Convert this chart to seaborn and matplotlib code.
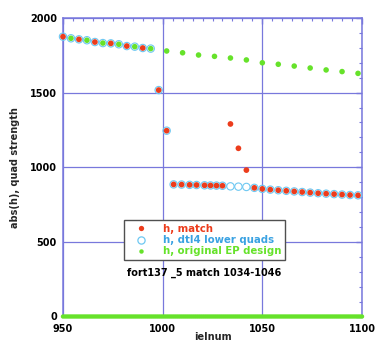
import matplotlib
matplotlib.use('Agg')
import matplotlib.pyplot as plt
import seaborn as sns
from matplotlib.ticker import MultipleLocator
from matplotlib.lines import Line2D

# ---- data ----
red_x = [950, 958, 966, 974, 982, 990, 998, 1002,
         1005.5, 1009.5, 1013.5, 1017, 1021, 1024, 1027, 1030,
         1034, 1038, 1042,
         1046, 1050, 1054, 1058, 1062, 1066, 1070, 1074, 1078, 1082, 1086, 1090, 1094, 1098]
red_y = [1875, 1857, 1839, 1830, 1812, 1799, 1517, 1245,
         885, 884, 882, 881, 879, 878, 877, 876,
         1290, 1127, 981,
         862, 855, 850, 846, 842, 838, 834, 830, 826, 823, 820, 817, 814, 812]

cyan_x = [950, 954, 958, 962, 966, 970, 974, 978, 982, 986, 990, 994, 998, 1002,
          1005.5, 1009.5, 1013.5, 1017, 1021, 1024, 1027, 1030,
          1034, 1038, 1042,
          1046, 1050, 1054, 1058, 1062, 1066, 1070, 1074, 1078, 1082, 1086, 1090, 1094, 1098]
cyan_y = [1875, 1864, 1857, 1851, 1839, 1832, 1830, 1824, 1812, 1808, 1799, 1795, 1517, 1245,
          885, 884, 882, 881, 879, 878, 877, 876,
          872, 870, 868,
          862, 855, 850, 846, 842, 838, 834, 830, 826, 823, 820, 817, 814, 812]

green_x = [954, 962, 970, 978, 986, 994, 1002, 1010, 1018, 1026, 1034, 1042,
           1050, 1058, 1066, 1074, 1082, 1090, 1098]
green_y = [1864, 1851, 1832, 1824, 1808, 1795, 1779, 1767, 1752, 1743, 1732, 1719,
           1700, 1690, 1678, 1665, 1652, 1641, 1629]

# the dense row of green points lying on zero (every element)
green_zero_x = list(range(950, 1101))
green_zero_y = [0] * len(green_zero_x)

labels = ["h, match", "h, dtl4 lower quads", "h, original EP design"]
note = "fort137 _5 match 1034-1046"
x_ticks = [950, 1000, 1050, 1100]
y_ticks = [0, 500, 1000, 1500, 2000]

# ---- style ----
sns.set_style("white")
plt.rcParams['font.family'] = ['DejaVu Sans']
plt.rcParams['font.weight'] = 'bold'

RED = '#ec3c1c'
CYAN = '#6ec8f2'
GREEN = '#66e22a'
BLUE = '#7878dc'
FS = 7

fig = plt.figure(figsize=(3.75, 3.42), dpi=100)
ax = fig.add_axes([63/375, 1 - 316.5/342, (362 - 63)/375, (316.5 - 18)/342])

sns.scatterplot(x=cyan_x, y=cyan_y, ax=ax, marker='o', s=28,
                facecolor='none', edgecolor=CYAN, linewidth=0.8, zorder=3, clip_on=False)
sns.scatterplot(x=red_x, y=red_y, ax=ax, marker='o', s=17,
                color=RED, edgecolor='none', linewidth=0, zorder=4, clip_on=False)
sns.scatterplot(x=green_x, y=green_y, ax=ax, marker='o', s=16,
                color=GREEN, edgecolor='none', linewidth=0, zorder=5, clip_on=False)
sns.scatterplot(x=green_zero_x, y=green_zero_y, ax=ax, marker='o', s=10,
                color=GREEN, edgecolor='none', linewidth=0, zorder=6, clip_on=False)

ax.set_xlim(950, 1100)
ax.set_ylim(0, 2000)
ax.set_xticks(x_ticks)
ax.set_yticks(y_ticks)
ax.xaxis.set_minor_locator(MultipleLocator(5))
ax.yaxis.set_minor_locator(MultipleLocator(100))
ax.tick_params(which='both', direction='in', top=True, right=True, color=BLUE,
               labelsize=FS, labelcolor='black')
ax.tick_params(which='major', length=4, width=1)
ax.tick_params(which='minor', length=2.5, width=0.8)
ax.tick_params(axis='x', pad=5.5)
ax.tick_params(axis='y', pad=4.5)
for lab in ax.get_xticklabels() + ax.get_yticklabels():
    lab.set_fontweight('bold')

ax.grid(True, which='major', color=BLUE, linewidth=0.9)
for sp in ax.spines.values():
    sp.set_color(BLUE)
    sp.set_linewidth(1.1)

ax.set_xlabel("ielnum", fontsize=FS, fontweight='bold', labelpad=-1.5)
ax.set_ylabel("abs(h), quad strength", fontsize=FS, fontweight='bold', labelpad=7)

handles = [
    Line2D([], [], linestyle='none', marker='o', markersize=3.8, markerfacecolor=RED, markeredgecolor='none'),
    Line2D([], [], linestyle='none', marker='o', markersize=5.2, markerfacecolor='none', markeredgecolor=CYAN, markeredgewidth=0.9),
    Line2D([], [], linestyle='none', marker='o', markersize=3.2, markerfacecolor=GREEN, markeredgecolor='none'),
]
leg = ax.legend(handles, labels, loc='upper left', bbox_to_anchor=(0.204, 0.322),
                frameon=True, fancybox=False, edgecolor='#505050', framealpha=1,
                prop={'size': 7.3, 'weight': 'bold'}, labelspacing=0.12, borderpad=0.35,
                handletextpad=0.9, handlelength=2.6, borderaxespad=0)
leg.get_frame().set_linewidth(1.0)
for t, c in zip(leg.get_texts(), [RED, '#3aa2e2', GREEN]):
    t.set_color(c)

ax.text(982, 291, note, fontsize=FS, fontweight='bold', ha='left', va='center', color='black')

fig.savefig('out.png', dpi=100)
